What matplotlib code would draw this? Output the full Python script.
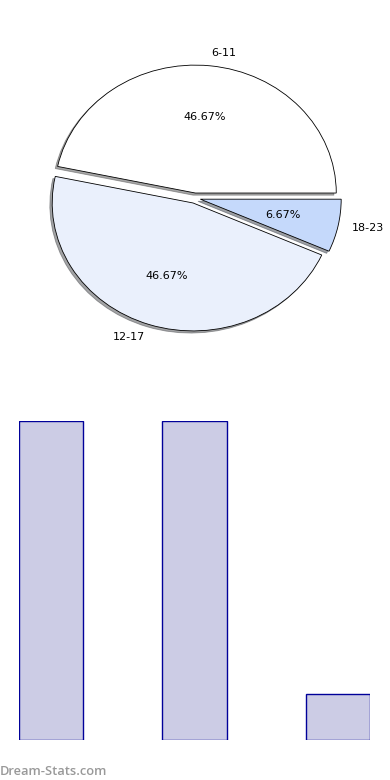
import matplotlib
matplotlib.use("Agg")
import matplotlib.pyplot as plt

# data
age_groups = ["6-11", "12-17", "18-23"]
counts = [7, 7, 1]
slice_colors = ["#ffffff", "#eaf0fc", "#c5d9fb"]
explode = [0.04, 0.04, 0.04]

fig = plt.figure(figsize=(3.9, 7.8), dpi=100)

# pie
ax_pie = fig.add_axes([0.048, 0.541, 0.903, 0.410])
wedges, texts, autotexts = ax_pie.pie(
    counts,
    labels=age_groups,
    colors=slice_colors,
    explode=explode,
    autopct="%.2f%%",
    shadow={"ox": -0.012, "oy": -0.012, "shade": 0.7},
    startangle=0,
    wedgeprops={"edgecolor": "black", "linewidth": 0.6},
    textprops={"fontsize": 8},
)
ax_pie.set_aspect("auto")
ax_pie.set_xlim(-1.25, 1.25)
ax_pie.set_ylim(-1.25, 1.25)

# bars
ax_bar = fig.add_axes([0.0487, 0.0513, 0.9, 0.409])
positions = list(range(len(counts)))
ax_bar.bar(positions, counts, width=0.45, align="edge",
           color="#ccccE5", edgecolor="#000099", linewidth=1)
ax_bar.set_xlim(0, 2.45)
ax_bar.set_ylim(0, 7)
ax_bar.axis("off")

fig.text(0.0, 0.0064, "Dream-Stats.com", fontsize=9.3, fontweight="semibold",
         family=["Open Sans", "DejaVu Sans"], color="#999999",
         ha="left", va="baseline")

fig.savefig("out.png", dpi=100)
